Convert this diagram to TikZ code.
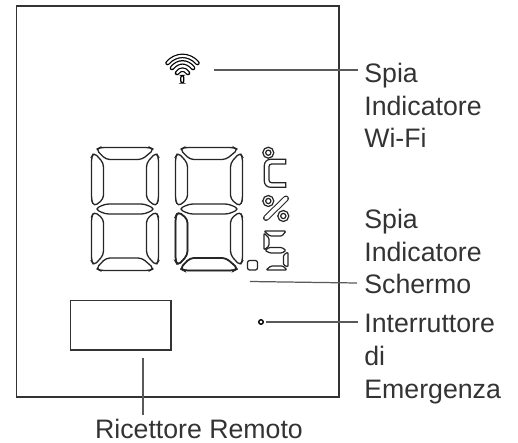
\documentclass[tikz,border=0pt]{standalone}
\usepackage{fontspec}
\setmainfont{Liberation Sans}
\usetikzlibrary{positioning}

% One seven-segment digit, #1 = left, #2 = top
\newcommand{\segdigit}[2]{%
	\begin{scope}[shift={(#1,#2)}]
		\foreach \sx/\ox in {1/0, -1/68} {
			\begin{scope}[shift={(\ox,0)}, xscale=\sx]
				\draw[segline] (3,5.5) -- (0.5,10) -- (0.5,53) -- (3,59.5) -- (12.5,52) -- (12.5,16) -- cycle;
				\draw[segline] (3,64.5) -- (0.5,70) -- (0.5,114) -- (3,118.5) -- (12.5,108) -- (12.5,72) -- cycle;
			\end{scope}
		}
		\draw[segline] (5,2.5) -- (9,0.5) -- (59,0.5) -- (63,2.5) -- (51,12.5) -- (15,12.5) -- cycle;
		\draw[segline] (4,62) -- (14,57) -- (54,57) -- (64,62) -- (54,67) -- (14,67) -- cycle;
		\draw[segline] (5,121.5) -- (15,111) -- (51,111) -- (63,121.5) -- (59,123.5) -- (9,123.5) -- cycle;
	\end{scope}
}

\tikzset{
	segline/.style={line width=0.75pt, rounded corners=2.2pt, black!85},
	tinyseg/.style={line width=0.7pt, rounded corners=0.7pt, black!85},
	leader/.style={line width=0.7pt, black!65},
	framebox/.style={draw=black!80, line width=1pt},
	callout/.style={anchor=north west, inner sep=0pt, align=left, text=black!80, font=\fontsize{15.2}{18.7}\selectfont},
	wifiband/.style={draw=black, line width=0.7pt, double=white, double distance=1.2pt, line cap=round},
	symband/.style={draw=black!85, line width=0.6pt, double=white, double distance=2.2pt, line cap=round},
}

\begin{document}
\begin{tikzpicture}[x=0.02cm, y=-0.02cm]
	\useasboundingbox (0,0) rectangle (518,443);

	% Housing
	\draw[framebox] (16.5,5.7) rectangle (339,397);

	% Wi-Fi icon
	\draw[wifiband] (167.5,63) .. controls (176,53.5) and (189,53.5) .. (197.5,63);
	\draw[wifiband] (172,68) .. controls (178,60.5) and (187,60.5) .. (193,68);
	\draw[wifiband] (177,73) .. controls (180,68.5) and (185,68.5) .. (188,73);
	\draw[line width=0.7pt, rounded corners=1.2pt] (180.8,75.5) rectangle (183.8,83);

	% Main digits
	\segdigit{91}{147}
	\segdigit{175}{147}

	% Heavier strokes on the second digit
	\draw[segline, line width=0.95pt] (178,211.5) -- (175.5,217) -- (175.5,261) -- (178,265.5) -- (187.5,255) -- (187.5,219) -- cycle;
	\draw[segline, line width=0.95pt] (180,268.5) -- (190,258) -- (226,258) -- (238,268.5) -- (234,270.5) -- (184,270.5) -- cycle;

	% Degree and C
	\draw[tinyseg] (268.3,152.7) circle (5.5);
	\draw[tinyseg] (268.3,152.7) circle (2.6);
	\draw[tinyseg, sharp corners] (285.7,159.3) [rounded corners=3.5pt] -- (264.3,159.3) -- (264.3,187.3) [sharp corners] -- (285.7,187.3) -- (285.7,182.7) [rounded corners=1.5pt] -- (269,182.7) -- (269,164) [sharp corners] -- (285.7,164) -- cycle;

	% Percent
	\draw[tinyseg] (268.3,201) circle (5.5);
	\draw[tinyseg] (268.3,201) circle (2.6);
	\draw[tinyseg] (283.3,216) circle (5.5);
	\draw[tinyseg] (283.3,216) circle (2.6);
	\draw[symband] (266,218) -- (286,198.5);

	% Decimal point and small digit
	\draw[tinyseg, rounded corners=1.2pt] (247.5,260.5) rectangle (257.5,270);
	\draw[tinyseg] (264,231) -- (286,231) -- (282,236) -- (270,236) -- cycle;
	\draw[tinyseg] (264,233) -- (269,238) -- (269,246) -- (264,250) -- cycle;
	\draw[tinyseg] (265,250.5) -- (269,247.5) -- (282,247.5) -- (286,250.5) -- (282,253) -- (270,253) -- cycle;
	\draw[tinyseg] (288,252) -- (288,267) -- (283.5,265) -- (283.5,255) -- cycle;
	\draw[tinyseg] (266,270) -- (271,266) -- (283,266) -- (287,270) -- cycle;

	% Remote receiver and emergency switch
	\node[draw=black!80, line width=0.9pt, minimum width=100.5*0.02cm, minimum height=49.5*0.02cm, inner sep=0pt] (receiver) at (120.7,325.2) {};
	\node[draw=black, circle, line width=0.8pt, inner sep=0pt, minimum size=4.5*0.02cm] (switch) at (261,322) {};

	% Labels
	\node[callout] (wifilabel) at (364,62.5) {Spia\\Indicatore\\Wi-Fi};
	\node[callout] (screenlabel) at (364,208.5) {Spia\\Indicatore\\Schermo};
	\node[callout] (switchlabel) at (364,314) {Interruttore\\di\\Emergenza};
	\node[callout, anchor=north] (receiverlabel) at (199,419) {Ricettore Remoto};

	% Leader ends
	\coordinate (wifistart) at (214,70);
	\coordinate (wifiend) at (358,70);
	\coordinate (screenstart) at (250,281.5);
	\coordinate (screenend) at (357,283);
	\coordinate (switchend) at (358,322);
	\coordinate (receiverstart) at (143,358);
	\coordinate (receiverend) at (143,415);

	% Leaders
	\draw[leader] (wifistart) -- (wifiend);
	\draw[leader] (screenstart) -- (screenend);
	\draw[leader, shorten <=1.4pt] (switch) -- (switchend);
	\draw[leader] (receiverstart) -- (receiverend);
\end{tikzpicture}
\end{document}
